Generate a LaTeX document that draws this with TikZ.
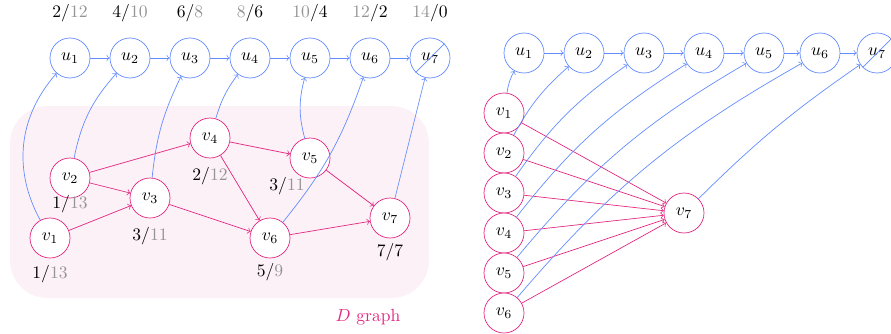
\documentclass[tikz,border=0pt]{standalone}
\usepackage{tikz}
\usepackage{color}

\definecolor{ublue}{RGB}{100,140,255}
\definecolor{vpink}{RGB}{226,40,128}
\definecolor{dfill}{RGB}{253,241,248}
\definecolor{ngray}{gray}{0.58}

% black / gray and gray / black counters
\newcommand{\nbg}[2]{#1/\textcolor{ngray}{#2}}
\newcommand{\ngb}[2]{\textcolor{ngray}{#1}/#2}

\begin{document}
\begin{tikzpicture}[
  unode/.style={circle, draw=ublue, fill=white, minimum size=0.8cm, inner sep=0pt},
  vnode/.style={circle, draw=vpink, fill=white, minimum size=0.8cm, inner sep=0pt},
  uedge/.style={->, ublue},
  vedge/.style={->, vpink}]
  \useasboundingbox (0,0) rectangle (17.82,6.66);

  % \draw[help lines] (0,0) grid (18,7);

  %%% left picture
  \begin{scope}
    \fill[dfill, rounded corners=0.75cm] (0.2,0.7) rectangle (8.58,4.54);
    \node[vpink] (dname) at (7.36,0.32) {$D$ graph};

    \foreach \i in {1,...,7}
      \node[unode] (u\i) at ({0.2+1.2*\i},5.5) {$u_\i$};
    \foreach \i [evaluate=\i as \j using int(\i+1)] in {1,...,6}
      \draw[uedge] (u\i) -- (u\j);
    \draw[ublue] (u7.south west) -- (u7.north east);

    \node (tu1) at (1.4,6.4) {\nbg{2}{12}};
    \node (tu2) at (2.6,6.4) {\nbg{4}{10}};
    \node (tu3) at (3.8,6.4) {\nbg{6}{8}};
    \node (tu4) at (5.0,6.4) {\ngb{8}{6}};
    \node (tu5) at (6.2,6.4) {\ngb{10}{4}};
    \node (tu6) at (7.4,6.4) {\ngb{12}{2}};
    \node (tu7) at (8.6,6.4) {\ngb{14}{0}};

    \node[vnode] (v1) at (1.0,1.9) {$v_1$};
    \node[vnode] (v2) at (1.4,3.1) {$v_2$};
    \node[vnode] (v3) at (3.0,2.7) {$v_3$};
    \node[vnode] (v4) at (4.2,3.9) {$v_4$};
    \node[vnode] (v5) at (6.2,3.5) {$v_5$};
    \node[vnode] (v6) at (5.4,1.9) {$v_6$};
    \node[vnode] (v7) at (7.8,2.3) {$v_7$};

    \node (tv1) at (1.0,1.18) {\nbg{1}{13}};
    \node (tv2) at (1.4,2.58) {\nbg{1}{13}};
    \node (tv3) at (3.0,1.94) {\nbg{3}{11}};
    \node (tv4) at (4.2,3.14) {\nbg{2}{12}};
    \node (tv5) at (5.74,2.94) {\nbg{3}{11}};
    \node (tv6) at (5.4,1.22) {\nbg{5}{9}};
    \node (tv7) at (7.8,1.62) {7/7};

    \draw[vedge] (v1) -- (v3);
    \draw[vedge] (v2) -- (v3);
    \draw[vedge] (v2) -- (v4);
    \draw[vedge] (v3) -- (v6);
    \draw[vedge] (v4) -- (v5);
    \draw[vedge] (v4) -- (v6);
    \draw[vedge] (v5) -- (v7);
    \draw[vedge] (v6) -- (v7);

    \draw[uedge] (v1) to[bend left=35] (u1);
    \draw[uedge] (v2) to[bend left=15] (u2);
    \draw[uedge] (v3) to[bend left=10] (u3);
    \draw[uedge] (v4) to[bend left=10] (u4);
    \draw[uedge] (v5) to[bend left=15] (u5);
    \draw[uedge] (v6) to[bend right=10] (u6);
    \draw[uedge] (v7) -- (u7);
  \end{scope}

  %%% right picture
  \begin{scope}
    \node[unode] (ru1) at (10.48,5.6) {$u_1$};
    \node[unode] (ru2) at (11.68,5.6) {$u_2$};
    \node[unode] (ru3) at (12.88,5.6) {$u_3$};
    \node[unode] (ru4) at (14.08,5.6) {$u_4$};
    \node[unode] (ru5) at (15.28,5.6) {$u_5$};
    \node[unode] (ru6) at (16.4,5.6) {$u_6$};
    \node[unode] (ru7) at (17.54,5.6) {$u_7$};
    \foreach \i [evaluate=\i as \j using int(\i+1)] in {1,...,6}
      \draw[uedge] (ru\i) -- (ru\j);
    \draw[ublue] (ru7.south west) -- (ru7.north east);

    \foreach \i in {1,...,6}
      \node[vnode] (rv\i) at (10.08,{5.2-0.8*\i}) {$v_\i$};
    \node[vnode] (rv7) at (13.68,2.4) {$v_7$};

    \foreach \i in {1,...,6}
      \draw[vedge] (rv\i) -- (rv7);

    \foreach \i in {1,...,6}
      \draw[uedge] (rv\i) to[bend left=10] (ru\i);
    \draw[uedge] (rv7) to[bend left=5] (ru7);
  \end{scope}
\end{tikzpicture}
\end{document}
